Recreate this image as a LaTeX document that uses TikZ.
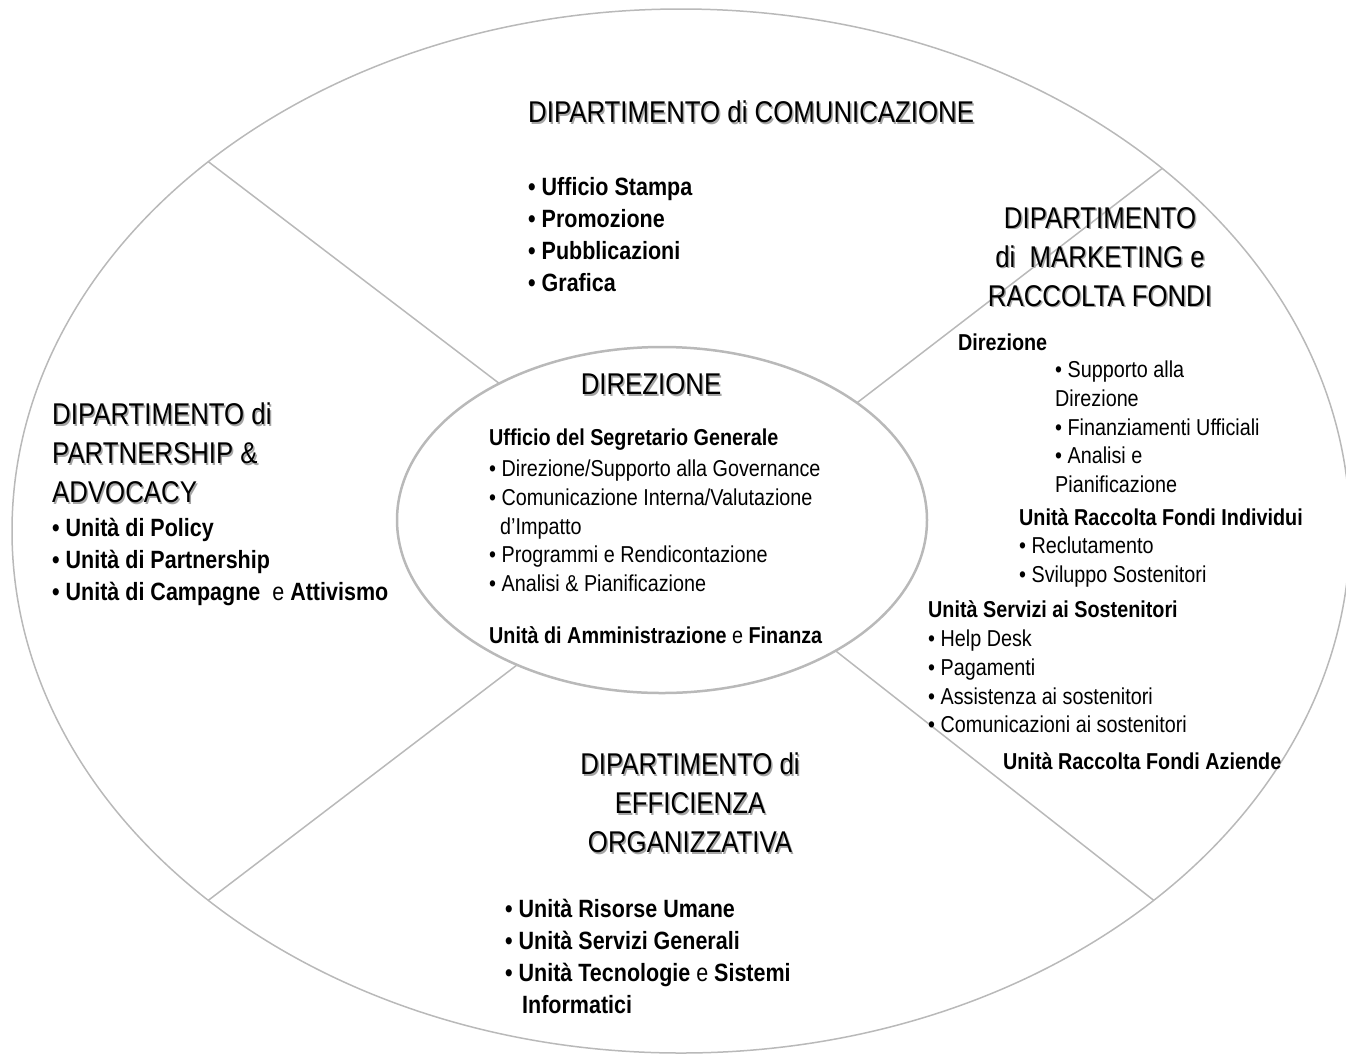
\documentclass[tikz,border=0pt]{standalone}
\usepackage{fontspec}
\usepackage{tikz}
\usetikzlibrary{shapes.geometric}
\setmainfont{Liberation Sans}[FakeStretch=0.86]
\definecolor{lcol}{RGB}{185,185,185}
\definecolor{scol}{RGB}{165,165,165}
\newcommand{\shd}[1]{\rlap{\kern1.5pt\raisebox{-1.5pt}{\textcolor{scol}{#1}}}#1}
\tikzset{every picture/.style={x=1pt,y=-1pt}}
\tikzset{oval/.style={ellipse,draw=lcol,outer sep=0,inner sep=0}}
\tikzset{edge/.style={draw=lcol,line width=1.5pt}}
\tikzset{dept/.style={font=\fontsize{30}{39}\selectfont,inner sep=0}}
\tikzset{units/.style={font=\bfseries\fontsize{25}{32}\selectfont,align=left,anchor=north west,inner sep=0}}
\tikzset{items/.style={font=\fontsize{23}{28.7}\selectfont,align=left,anchor=north west,inner sep=0}}
\tikzset{head/.style={font=\bfseries\fontsize{23}{28.7}\selectfont,anchor=west,inner sep=0}}

\begin{document}
\begin{tikzpicture}
\useasboundingbox (0,0) rectangle (1346,1053);

\node [oval,line width=1.5pt,minimum width=1338,minimum height=1044] (org) at (681,531) {};
\node [oval,line width=2.5pt,minimum width=530,minimum height=346] (dir) at (662,520) {};

\draw [edge] (dir.140) -- (org.142);
\draw [edge] (dir.31) -- (org.37);
\draw [edge] (dir.225) -- (org.218);
\draw [edge] (dir.323) -- (org.322);

\node [dept,anchor=west] (com) at (528,113) {\shd{DIPARTIMENTO di COMUNICAZIONE}};
\node [units] (com_u) at (528,177) {• Ufficio Stampa\\• Promozione\\• Pubblicazioni\\• Grafica};

\node [dept,align=center,anchor=north] (mkt) at (1100,207) {\shd{DIPARTIMENTO}\\\shd{di\ \ MARKETING e}\\\shd{RACCOLTA FONDI}};
\node [head] (mkt_d) at (958,342) {Direzione};
\node [items] (mkt_di) at (1055,361) {• Supporto alla\\Direzione\\• Finanziamenti Ufficiali\\• Analisi e\\Pianificazione};
\node [head] (mkt_r) at (1019,517) {Unità Raccolta Fondi Individui};
\node [items] (mkt_ri) at (1019,537) {• Reclutamento\\• Sviluppo Sostenitori};
\node [head] (mkt_s) at (928,609) {Unità Servizi ai Sostenitori};
\node [items] (mkt_si) at (928,630) {• Help Desk\\• Pagamenti\\• Assistenza ai sostenitori\\• Comunicazioni ai sostenitori};
\node [head] (mkt_a) at (1003,761) {Unità Raccolta Fondi Aziende};

\node [dept,align=left,anchor=north west] (par) at (52,403) {\shd{DIPARTIMENTO di}\\\shd{PARTNERSHIP \&}\\\shd{ADVOCACY}};
\node [units] (par_u) at (52,518) {• Unità di Policy\\• Unità di Partnership\\• Unità di Campagne\ \ {\mdseries e} Attivismo};

\node [dept] (dir_t) at (651,385) {\shd{DIREZIONE}};
\node [head] (dir_s) at (489,440) {Ufficio del Segretario Generale};
\node [items] (dir_si) at (489,460) {• Direzione/Supporto alla Governance\\• Comunicazione Interna/Valutazione\\\hspace*{11pt}d’Impatto\\• Programmi e Rendicontazione\\• Analisi \& Pianificazione};
\node [head] (dir_a) at (489,635) {Unità di Amministrazione {\mdseries e} Finanza};

\node [dept,align=center,anchor=north] (eff) at (690,753) {\shd{DIPARTIMENTO di}\\\shd{EFFICIENZA}\\\shd{ORGANIZZATIVA}};
\node [units] (eff_u) at (505,899) {• Unità Risorse Umane\\• Unità Servizi Generali\\• Unità Tecnologie {\mdseries e} Sistemi\\\hspace*{17pt}Informatici};
\end{tikzpicture}
\end{document}
